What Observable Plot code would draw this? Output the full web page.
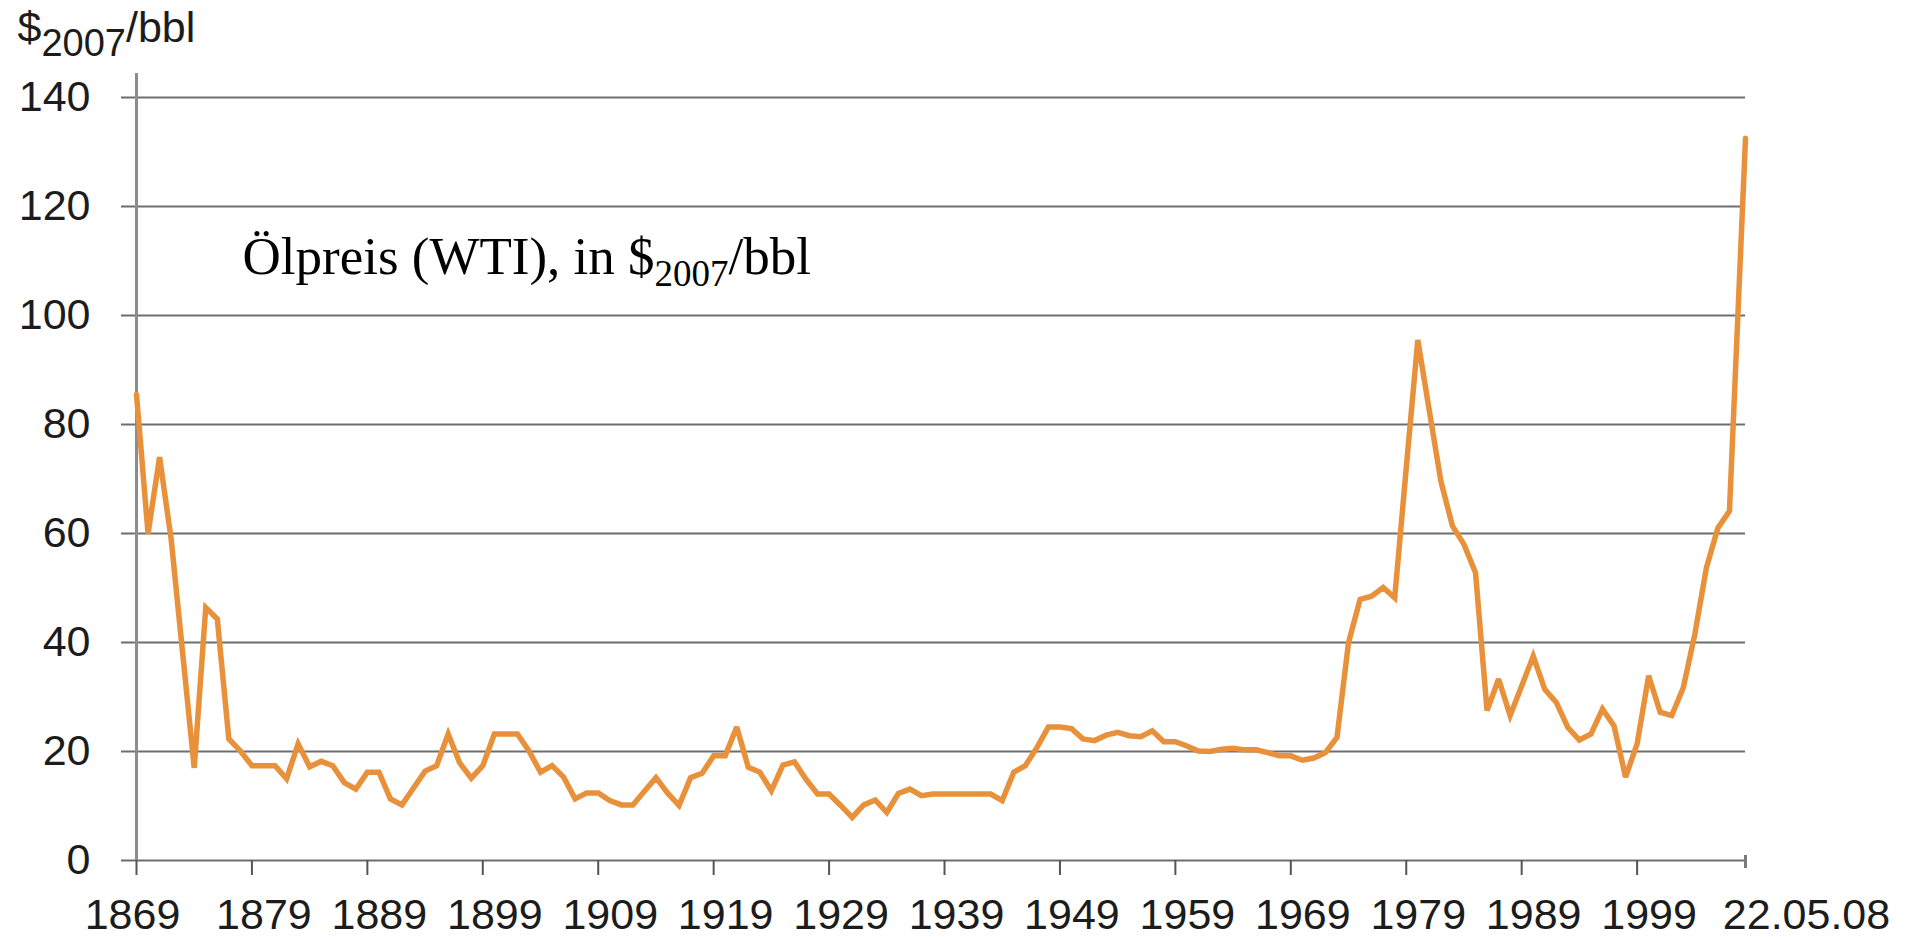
<!DOCTYPE html>
<html>
<head>
<meta charset="utf-8">
<script src="https://cdn.jsdelivr.net/npm/d3@7"></script>
<script src="https://cdn.jsdelivr.net/npm/@observablehq/plot@0.6"></script>
<style>
  html, body { margin: 0; padding: 0; background: #ffffff; }
  #chart svg { display: block; }
</style>
</head>
<body>
<div id="chart"></div>
<script>
// ---- data ----
const years = [
  1869, 1870, 1871, 1872, 1873, 1874, 1875, 1876, 1877, 1878,
  1879, 1880, 1881, 1882, 1883, 1884, 1885, 1886, 1887, 1888,
  1889, 1890, 1891, 1892, 1893, 1894, 1895, 1896, 1897, 1898,
  1899, 1900, 1901, 1902, 1903, 1904, 1905, 1906, 1907, 1908,
  1909, 1910, 1911, 1912, 1913, 1914, 1915, 1916, 1917, 1918,
  1919, 1920, 1921, 1922, 1923, 1924, 1925, 1926, 1927, 1928,
  1929, 1930, 1931, 1932, 1933, 1934, 1935, 1936, 1937, 1938,
  1939, 1940, 1941, 1942, 1943, 1944, 1945, 1946, 1947, 1948,
  1949, 1950, 1951, 1952, 1953, 1954, 1955, 1956, 1957, 1958,
  1959, 1960, 1961, 1962, 1963, 1964, 1965, 1966, 1967, 1968,
  1969, 1970, 1971, 1972, 1973, 1974, 1975, 1976, 1977, 1978,
  1979, 1980, 1981, 1982, 1983, 1984, 1985, 1986, 1987, 1988,
  1989, 1990, 1991, 1992, 1993, 1994, 1995, 1996, 1997, 1998,
  1999, 2000, 2001, 2002, 2003, 2004, 2005, 2006, 2007
];
const prices = [
  85.5, 60.0, 74.0, 59.0, 38.0, 17.0, 46.4, 44.3, 22.3, 20.1,
  17.4, 17.4, 17.4, 15.0, 21.4, 17.2, 18.2, 17.4, 14.3, 13.1,
  16.2, 16.2, 11.3, 10.2, 13.3, 16.4, 17.4, 23.2, 17.9, 15.1,
  17.4, 23.2, 23.2, 23.2, 20.1, 16.2, 17.4, 15.3, 11.3, 12.4,
  12.4, 11.0, 10.2, 10.2, 12.7, 15.2, 12.4, 10.1, 15.2, 16.0,
  19.2, 19.2, 24.5, 17.1, 16.2, 12.8, 17.5, 18.1, 14.9, 12.2,
  12.2, 10.1, 7.9, 10.2, 11.1, 8.8, 12.3, 13.1, 11.9, 12.2,
  12.2, 12.2, 12.2, 12.2, 12.2, 11.0, 16.2, 17.4, 20.7, 24.5,
  24.5, 24.2, 22.3, 22.0, 23.0, 23.5, 22.9, 22.7, 23.8, 21.8,
  21.8, 21.0, 20.1, 20.0, 20.4, 20.6, 20.3, 20.3, 19.8, 19.2,
  19.2, 18.4, 18.8, 19.8, 22.6, 40.0, 47.9, 48.5, 50.1, 48.2,
  72.0, 95.5, 82.5, 69.6, 61.4, 58.0, 52.8, 27.5, 33.3, 26.6,
  32.0, 37.5, 31.4, 29.0, 24.4, 22.1, 23.2, 27.8, 24.7, 15.3,
  21.4, 33.9, 27.2, 26.6, 31.7, 41.5, 53.7, 61.0, 64.1
];
const endDate = 2008.39;        // 22 May 2008
const endPrice = 132.5;
const endLabel = "22.05.08";
const xTicks = [1869, 1879, 1889, 1899, 1909, 1919, 1929, 1939, 1949, 1959, 1969, 1979, 1989, 1999];
const yTicks = [0, 20, 40, 60, 80, 100, 120, 140];
const yTitleParts = ["$", "2007", "/bbl"];
const annotationParts = ["Ölpreis (WTI), in $", "2007", "/bbl"];

// ---- table for the library ----
const series = years.map((year, i) => ({year, price: prices[i]}))
  .concat([{year: endDate, price: endPrice}]);

const sans = "'Liberation Sans', Arial, Helvetica, sans-serif";
const serif = "'Liberation Serif', 'Times New Roman', serif";
const ink = "#1c1c1c";

const chart = Plot.plot({
  width: 1916,
  height: 937,
  marginTop: 97,
  marginBottom: 77,
  marginLeft: 136,
  marginRight: 171,
  style: {fontFamily: sans, fontSize: "43px", color: ink, background: "#ffffff"},
  x: {domain: [xTicks[0], endDate]},
  y: {domain: [yTicks[0], yTicks[yTicks.length - 1]]},
  marks: [
    // grid (doubles as the x axis line at 0), with short stubs left of the axis
    Plot.ruleY(yTicks, {stroke: "#6e6e6e", strokeWidth: 2, insetLeft: -15}),
    // vertical y axis line, running a little above the top gridline
    Plot.ruleX([xTicks[0]], {stroke: "#8c8c8c", strokeWidth: 3, insetTop: -24}),
    // small end cap of the time axis
    Plot.ruleX([endDate], {y1: 0, y2: 0, insetTop: -5, insetBottom: -8, stroke: "#7a7a7a", strokeWidth: 3}),
    // y tick labels
    Plot.axisY(yTicks, {tickSize: 0, tickPadding: 46, fontSize: 43, label: null, color: ink}),
    // x ticks (marks only)
    Plot.axisX(xTicks, {tickSize: 15, text: null, label: null, stroke: "#555555", strokeWidth: 2}),
    // x tick labels: first one nudged left, the others sit slightly right of their ticks
    Plot.axisX(xTicks.slice(0, 1), {tickSize: 0, tickPadding: 38, fontSize: 43, label: null,
      color: ink, dx: -4, tickFormat: d => String(d)}),
    Plot.axisX(xTicks.slice(1), {tickSize: 0, tickPadding: 38, fontSize: 43, label: null,
      color: ink, dx: 12, tickFormat: d => String(d)}),
    // end-date label
    Plot.text([endLabel], {text: d => d, x: endDate, frameAnchor: "bottom", lineAnchor: "top",
      dx: 61, dy: 38, fontSize: 43, fill: ink}),
    // the price series
    Plot.line(series, {x: "year", y: "price", stroke: "#e8913a", strokeWidth: 5.5,
      strokeLinejoin: "miter", strokeMiterlimit: 3}),
    // y axis unit title
    Plot.text([yTitleParts.join("")], {text: d => d, frameAnchor: "top-left", textAnchor: "start",
      lineAnchor: "top", dx: -119, dy: -86, fontSize: 43, fill: ink}),
    // in-chart annotation
    Plot.text([annotationParts.join("")], {text: d => d, frameAnchor: "top-left", textAnchor: "start",
      lineAnchor: "top", dx: 106, dy: 139, fontSize: 53, fontFamily: serif, fill: "#000000"})
  ]
});

// turn the "2007" inside the two labels into a subscript
function subscript(root, parts, subSize, shift) {
  const ns = "http://www.w3.org/2000/svg";
  const whole = parts.join("");
  root.querySelectorAll("text").forEach(t => {
    if (t.textContent !== whole) return;
    t.textContent = "";
    const a = document.createElementNS(ns, "tspan");
    a.textContent = parts[0];
    const b = document.createElementNS(ns, "tspan");
    b.textContent = parts[1];
    b.setAttribute("dy", shift);
    b.setAttribute("font-size", subSize);
    const c = document.createElementNS(ns, "tspan");
    c.textContent = parts[2];
    c.setAttribute("dy", -shift);
    t.append(a, b, c);
  });
}
subscript(chart, yTitleParts, 38, 14);
subscript(chart, annotationParts, 37, 12);

document.getElementById("chart").append(chart);
</script>
</body>
</html>
